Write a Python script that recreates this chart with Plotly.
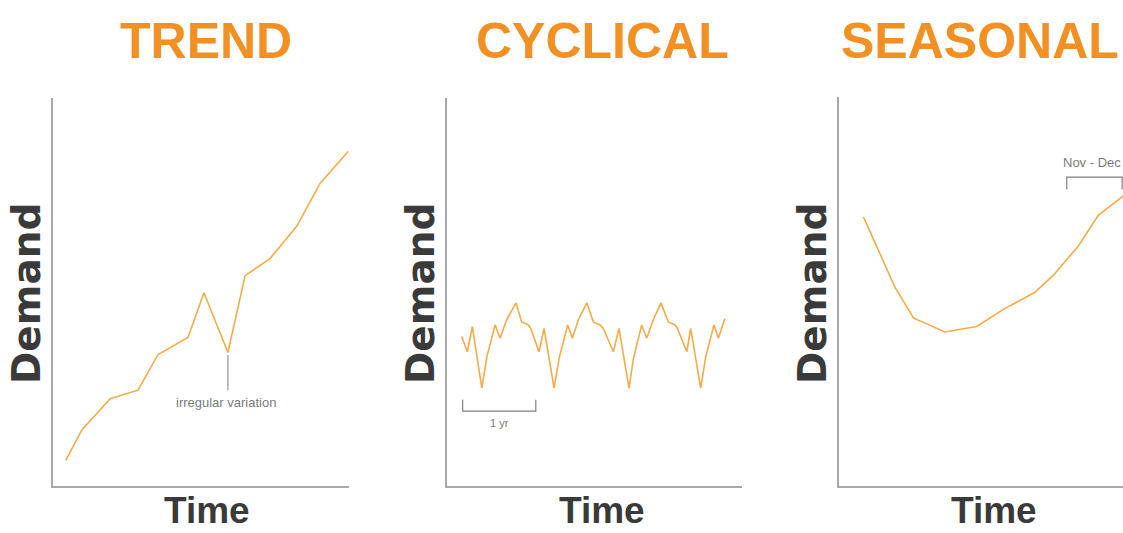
import plotly.graph_objects as go

W, H = 1123, 533

# ---------------- data (time / demand in arbitrary units, 0-100) ----------------
trend_time = [4.3, 9.8, 19.3, 28.7, 35.5, 45.6, 51.0, 59.1, 64.9, 73.3, 82.4, 90.2, 99.7]
trend_demand = [6.6, 14.5, 22.5, 24.7, 33.9, 38.3, 49.8, 34.4, 54.2, 58.6, 67.0, 78.0, 86.2]

cyc_time = [5.0, 6.9, 8.6, 11.8, 13.5, 16.3, 18.0, 20.2, 23.4, 25.3, 27.6, 28.4, 31.2, 32.9,
            36.3, 38.0, 40.9, 42.5, 44.5, 47.4, 49.6, 51.9, 53.0, 56.4, 58.3, 61.7, 63.2,
            66.0, 67.7, 69.9, 72.5, 75.0, 77.3, 78.1, 81.3, 82.6, 86.0, 87.7, 90.5, 92.0, 94.2]
cyc_demand = [38.5, 34.6, 41.1, 25.2, 33.3, 41.5, 38.1, 42.8, 47.2, 42.3, 41.5, 40.6, 34.6, 40.6,
              25.2, 32.9, 41.5, 38.1, 42.8, 47.2, 42.3, 41.5, 40.6, 34.6, 40.6, 25.2, 32.9,
              41.5, 38.1, 42.8, 47.2, 42.3, 41.5, 40.6, 34.6, 40.6, 25.2, 33.3, 41.5, 38.1, 43.2]

seas_time = [8.6, 19.7, 26.2, 37.3, 48.5, 57.9, 69.0, 75.5, 84.3, 91.3, 100.0, 104.0]
seas_demand = [69.2, 51.1, 43.2, 39.6, 41.0, 45.4, 49.8, 54.2, 61.7, 69.6, 74.5, 76.5]

# annotation marks
irregular_x = [59.1, 59.1]
irregular_y = [33.8, 24.7]
year_bracket_x = [5.3, 5.3, 30.1, 30.1]
year_bracket_y = [22.2, 19.3, 19.3, 22.2]
novdec_bracket_x = [80.2, 80.2, 99.7, 99.7]
novdec_bracket_y = [76.3, 79.4, 79.4, 76.3]

titles = ["TREND", "CYCLICAL", "SEASONAL"]
x_label = "Time"
y_label = "Demand"

# ---------------- layout geometry (pixels) ----------------
def px_x(p):
    return p / W

def px_y(p):
    return 1 - p / H

panels = [
    dict(x0=53, x1=349, y0=98, y1=486, title_x=206, title_anchor="center", time_cx=207, dem_cx=26),
    dict(x0=447, x1=742, y0=98, y1=486, title_x=602, title_anchor="center", time_cx=602, dem_cx=420),
    dict(x0=839, x1=1123, y0=97, y1=486, title_x=1121, title_anchor="right", time_cx=994, dem_cx=812),
]

LINE = "#F3AC48"
AXIS = "#A9A9A9"
GRAY = "#7a7a7a"
ORANGE = "#F39023"
DARK = "#3a3a3a"
NARROW = "Liberation Sans Narrow, Arial Narrow, Liberation Sans, Arial, sans-serif"

fig = go.Figure()

fig.add_trace(go.Scatter(x=trend_time, y=trend_demand, mode="lines",
                         line=dict(color=LINE, width=1.6), xaxis="x", yaxis="y"))
fig.add_trace(go.Scatter(x=irregular_x, y=irregular_y, mode="lines",
                         line=dict(color="#808080", width=1), xaxis="x", yaxis="y"))

fig.add_trace(go.Scatter(x=cyc_time, y=cyc_demand, mode="lines",
                         line=dict(color=LINE, width=1.6), xaxis="x2", yaxis="y2"))
fig.add_trace(go.Scatter(x=year_bracket_x, y=year_bracket_y, mode="lines",
                         line=dict(color="#808080", width=1.2), xaxis="x2", yaxis="y2"))

fig.add_trace(go.Scatter(x=seas_time, y=seas_demand, mode="lines",
                         line=dict(color=LINE, width=1.6), xaxis="x3", yaxis="y3"))
fig.add_trace(go.Scatter(x=novdec_bracket_x, y=novdec_bracket_y, mode="lines",
                         line=dict(color="#808080", width=1.2), xaxis="x3", yaxis="y3"))

axis_common = dict(showgrid=False, zeroline=False, showticklabels=False, ticks="",
                   showline=True, linecolor=AXIS, linewidth=2, range=[0, 100], fixedrange=True)

layout = dict(
    width=W, height=H, margin=dict(l=0, r=0, t=0, b=0),
    paper_bgcolor="white", plot_bgcolor="white", showlegend=False,
)
annotations = []
for i, p in enumerate(panels):
    sfx = "" if i == 0 else str(i + 1)
    layout["xaxis" + sfx] = dict(axis_common, domain=[px_x(p["x0"]), px_x(p["x1"])],
                                 anchor="y" + sfx)
    layout["yaxis" + sfx] = dict(axis_common, domain=[px_y(p["y1"]), px_y(p["y0"])],
                                 anchor="x" + sfx)
    annotations.append(dict(text="<b>%s</b>" % titles[i], xref="paper", yref="paper",
                            x=px_x(p["title_x"]), y=px_y(41), xanchor=p["title_anchor"],
                            yanchor="middle", showarrow=False,
                            font=dict(family=NARROW, size=50, color=ORANGE)))
    annotations.append(dict(text="<b>%s</b>" % x_label, xref="paper", yref="paper",
                            x=px_x(p["time_cx"]), y=0, xanchor="center", yanchor="bottom",
                            showarrow=False, font=dict(family=NARROW, size=37, color=DARK)))
    annotations.append(dict(text="<b>%s</b>" % y_label, xref="paper", yref="paper",
                            x=px_x(p["dem_cx"]), y=px_y(294), xanchor="center", yanchor="middle",
                            textangle=-90, showarrow=False,
                            font=dict(family="DejaVu Sans, sans-serif", size=39, color=DARK)))

annotations.append(dict(text="irregular variation", xref="x", yref="y", x=58.4, y=21.4,
                        xanchor="center", yanchor="middle", showarrow=False,
                        font=dict(family=NARROW, size=13, color=GRAY)))
annotations.append(dict(text="1 yr", xref="x2", yref="y2", x=17.9, y=16.3,
                        xanchor="center", yanchor="middle", showarrow=False,
                        font=dict(family=NARROW, size=11, color=GRAY)))
annotations.append(dict(text="Nov - Dec", xref="x3", yref="y3", x=78.3, y=83.2,
                        xanchor="left", yanchor="middle", showarrow=False,
                        font=dict(family=NARROW, size=13, color=GRAY)))
layout["annotations"] = annotations

fig.update_layout(**layout)
fig.write_html("out.html", config={"displayModeBar": False},
               post_script="document.body.style.margin='0';document.body.style.overflow='hidden';")
